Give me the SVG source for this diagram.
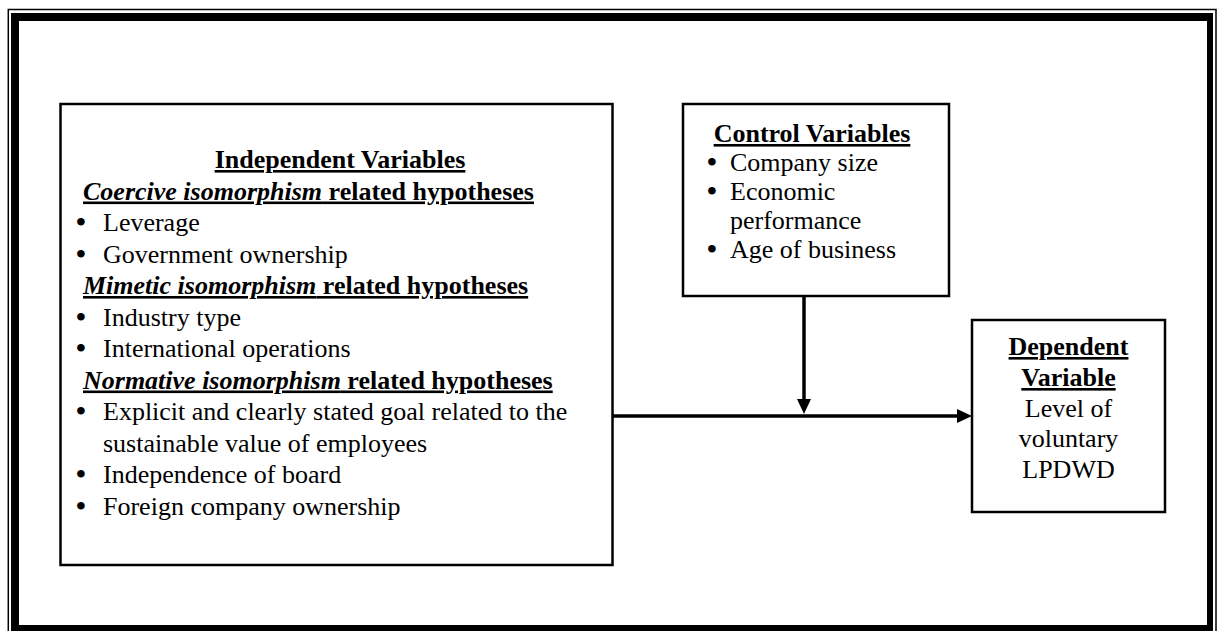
<svg xmlns="http://www.w3.org/2000/svg" width="1221" height="631" viewBox="0 0 1221 631">
<style>
text{font-family:"Liberation Serif","Times New Roman",serif;font-size:26px;fill:#000}
.b{font-weight:bold}
.u{text-decoration:underline}
.i{font-style:italic}
.bl{font-weight:bold;font-size:28px}
.box{fill:#fff;stroke:#000;stroke-width:2.5}
.conn{stroke:#000;stroke-width:3.5;fill:none}
</style>
<defs>
<marker id="arr" markerUnits="userSpaceOnUse" markerWidth="15" markerHeight="14" refX="3" refY="7" orient="auto">
<path d="M0,0 L15,7 L0,14 z" fill="#000"/>
</marker>
</defs>
<rect width="1221" height="631" fill="#fff"/>
<g id="frame">
<rect x="8.3" y="9.5" width="1207.7" height="640" fill="none" stroke="#000" stroke-width="1.5"/>
<path d="M11,13 H1213 V640 H11 Z M19,21 V625 H1207 V21 Z" fill="#000" fill-rule="evenodd"/>
</g>
<g id="connectors">
<line class="conn" x1="612.5" y1="416" x2="960" y2="416" marker-end="url(#arr)"/>
<line class="conn" x1="804" y1="296" x2="804" y2="402" marker-end="url(#arr)"/>
</g>
<g id="independent">
<rect class="box" x="60.5" y="104" width="552" height="461"/>
<text class="b u" x="340" y="168" text-anchor="middle">Independent Variables</text>
<text class="b u" x="83" y="199.5"><tspan class="i">Coercive isomorphism</tspan> related hypotheses</text>
<text x="76" y="231"><tspan class="bl">•</tspan><tspan x="103">Leverage</tspan></text>
<text x="76" y="262.5"><tspan class="bl">•</tspan><tspan x="103">Government ownership</tspan></text>
<text class="b u" x="83" y="294"><tspan class="i">Mimetic isomorphism</tspan> related hypotheses</text>
<text x="76" y="325.5"><tspan class="bl">•</tspan><tspan x="103">Industry type</tspan></text>
<text x="76" y="357"><tspan class="bl">•</tspan><tspan x="103">International operations</tspan></text>
<text class="b u" x="83" y="388.5"><tspan class="i">Normative isomorphism</tspan> related hypotheses</text>
<text x="76" y="420"><tspan class="bl">•</tspan><tspan x="103">Explicit and clearly stated goal related to the</tspan></text>
<text x="103" y="451.5">sustainable value of employees</text>
<text x="76" y="483"><tspan class="bl">•</tspan><tspan x="103">Independence of board</tspan></text>
<text x="76" y="514.5"><tspan class="bl">•</tspan><tspan x="103">Foreign company ownership</tspan></text>
</g>
<g id="control">
<rect class="box" x="683" y="104" width="266" height="192"/>
<text class="b u" x="812" y="142" text-anchor="middle">Control Variables</text>
<text x="707" y="171"><tspan class="bl">•</tspan><tspan x="730">Company size</tspan></text>
<text x="707" y="200"><tspan class="bl">•</tspan><tspan x="730">Economic</tspan></text>
<text x="730" y="229">performance</text>
<text x="707" y="258"><tspan class="bl">•</tspan><tspan x="730">Age of business</tspan></text>
</g>
<g id="dependent">
<rect class="box" x="972" y="320" width="193" height="192"/>
<text class="b u" x="1068.5" y="355" text-anchor="middle">Dependent</text>
<text class="b u" x="1068.5" y="386" text-anchor="middle">Variable</text>
<text x="1068.5" y="417" text-anchor="middle">Level of</text>
<text x="1068.5" y="447" text-anchor="middle">voluntary</text>
<text x="1068.5" y="478" text-anchor="middle">LPDWD</text>
</g>
</svg>
